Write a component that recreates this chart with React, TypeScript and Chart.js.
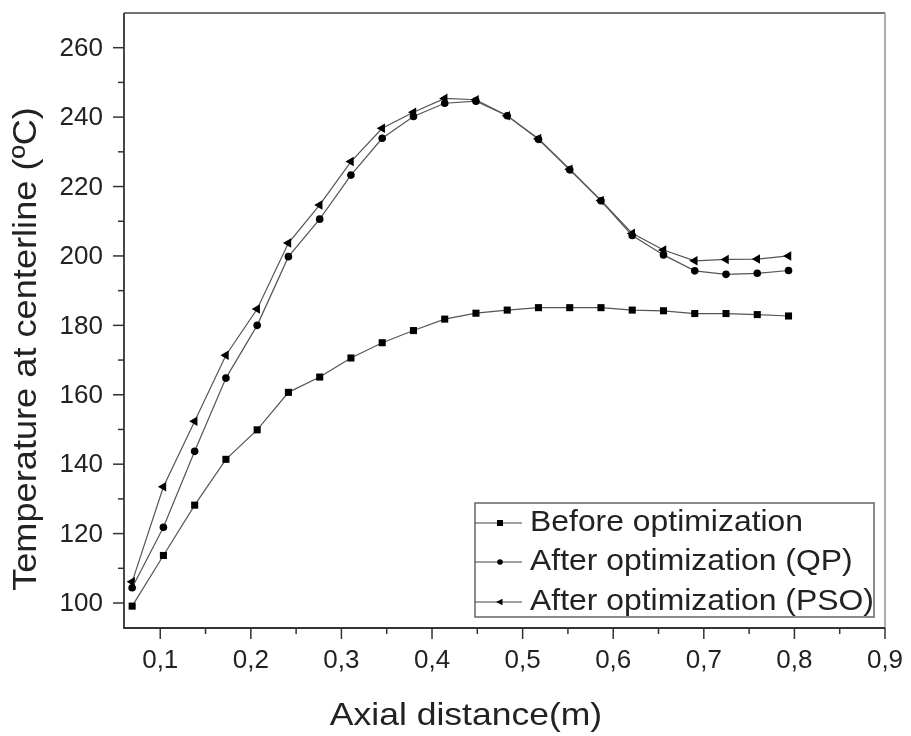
import React, { useEffect, useRef } from 'react';
import { Chart, registerables } from 'chart.js';
Chart.register(...registerables);

const axialDistance = [0.069, 0.1035, 0.138, 0.1725, 0.207, 0.2415, 0.276, 0.3105, 0.345, 0.3795, 0.414, 0.4485, 0.483, 0.5175, 0.552, 0.5865, 0.621, 0.6555, 0.69, 0.7245, 0.759, 0.7935];
const beforeOpt = [99.1, 113.7, 128.2, 141.4, 149.9, 160.7, 165.1, 170.6, 175.0, 178.5, 181.8, 183.5, 184.4, 185.1, 185.1, 185.1, 184.4, 184.2, 183.4, 183.4, 183.1, 182.7];
const afterQP = [104.4, 121.8, 143.7, 164.8, 180.0, 199.8, 210.6, 223.3, 233.9, 240.2, 244.0, 244.6, 240.4, 233.6, 224.8, 215.9, 205.9, 200.3, 195.7, 194.7, 195.0, 195.8];
const afterPSO = [106.1, 133.5, 152.4, 171.4, 184.7, 203.7, 214.7, 227.2, 236.8, 241.4, 245.4, 245.0, 240.4, 233.8, 225.0, 216.0, 206.5, 201.7, 198.6, 199.0, 199.1, 200.0];

const seriesLabels = ['Before optimization', 'After optimization (QP)', 'After optimization (PSO)'];
const xTickValues = [0.1, 0.15, 0.2, 0.25, 0.3, 0.35, 0.4, 0.45, 0.5, 0.55, 0.6, 0.65, 0.7, 0.75, 0.8, 0.85, 0.9];
const xMajorLabels = ['0,1', '0,2', '0,3', '0,4', '0,5', '0,6', '0,7', '0,8', '0,9'];
const yTickValues = [100, 110, 120, 130, 140, 150, 160, 170, 180, 190, 200, 210, 220, 230, 240, 250, 260];
const yMajorLabels = ['100', '120', '140', '160', '180', '200', '220', '240', '260'];
const xTitle = 'Axial distance(m)';
const yTitle = 'Temperature at centerline (ºC)';

const FONT = '"Liberation Sans", Arial, sans-serif';

function isMajorX(v: number) {
  return Math.abs(v * 10 - Math.round(v * 10)) < 1e-6;
}
function isMajorY(v: number) {
  return Math.abs(v / 20 - Math.round(v / 20)) < 1e-6;
}
function xLabel(v: number) {
  return isMajorX(v) ? xMajorLabels[Math.round(v * 10) - 1] ?? '' : '';
}
function yLabel(v: number) {
  return isMajorY(v) ? yMajorLabels[Math.round((v - 100) / 20)] ?? '' : '';
}

function stretchedText(ctx: CanvasRenderingContext2D, text: string, x: number, y: number, sx: number) {
  ctx.save();
  ctx.translate(x, y);
  ctx.scale(sx, 1);
  ctx.fillText(text, 0, 0);
  ctx.restore();
}

const decorPlugin = {
  id: 'decor',
  afterDraw(chart: any) {
    const ctx = chart.ctx as CanvasRenderingContext2D;
    const { left, right, top, bottom } = chart.chartArea;
    const xs = chart.scales.x;
    const ys = chart.scales.y;
    ctx.save();
    // frame
    ctx.strokeStyle = '#444';
    ctx.lineWidth = 1.6;
    ctx.beginPath();
    ctx.moveTo(left, top);
    ctx.lineTo(right, top);
    ctx.stroke();
    ctx.strokeStyle = '#999';
    ctx.beginPath();
    ctx.moveTo(right, top);
    ctx.lineTo(right, bottom);
    ctx.stroke();
    ctx.strokeStyle = '#333';
    ctx.lineWidth = 1.8;
    ctx.beginPath();
    ctx.moveTo(left, top);
    ctx.lineTo(left, bottom);
    ctx.lineTo(right, bottom);
    ctx.stroke();
    // ticks and tick labels
    ctx.lineWidth = 1.5;
    ctx.fillStyle = '#222';
    ctx.font = `26px ${FONT}`;
    xs.ticks.forEach((t: any) => {
      const px = xs.getPixelForValue(t.value);
      const major = isMajorX(t.value);
      const len = major ? 11 : 6;
      ctx.beginPath();
      ctx.moveTo(px, bottom);
      ctx.lineTo(px, bottom + len);
      ctx.stroke();
      const lab = xLabel(t.value);
      if (lab) {
        ctx.textAlign = 'center';
        ctx.textBaseline = 'middle';
        ctx.fillText(lab, px, bottom + 33);
      }
    });
    ys.ticks.forEach((t: any) => {
      const py = ys.getPixelForValue(t.value);
      const major = isMajorY(t.value);
      const len = major ? 11 : 6;
      ctx.beginPath();
      ctx.moveTo(left - len, py);
      ctx.lineTo(left, py);
      ctx.stroke();
      const lab = yLabel(t.value);
      if (lab) {
        ctx.textAlign = 'right';
        ctx.textBaseline = 'middle';
        ctx.fillText(lab, left - 21, py + 1);
      }
    });
    // axis titles
    ctx.fillStyle = '#222';
    ctx.font = `32px ${FONT}`;
    ctx.textAlign = 'center';
    ctx.textBaseline = 'alphabetic';
    stretchedText(ctx, xTitle, 466, 725, 1.11);
    ctx.save();
    ctx.translate(27, 349);
    ctx.rotate(-Math.PI / 2);
    ctx.font = `34px ${FONT}`;
    ctx.textBaseline = 'middle';
    stretchedText(ctx, yTitle, 0, 0, 1.064);
    ctx.restore();
    // legend
    const bx = 475, by = 503, bw = 399, bh = 114;
    ctx.fillStyle = '#fff';
    ctx.fillRect(bx, by, bw, bh);
    ctx.strokeStyle = '#666';
    ctx.lineWidth = 1.5;
    ctx.strokeRect(bx, by, bw, bh);
    const rows = [523, 562, 602];
    chart.data.datasets.forEach((ds: any, i: number) => {
      const ry = rows[i];
      ctx.strokeStyle = '#444';
      ctx.lineWidth = 1.2;
      ctx.beginPath();
      ctx.moveTo(bx, ry);
      ctx.lineTo(bx + 47, ry);
      ctx.stroke();
      ctx.fillStyle = '#000';
      const mx = bx + 25;
      if (i === 0) {
        ctx.fillRect(mx - 3, ry - 3, 6, 6);
      } else if (i === 1) {
        ctx.beginPath();
        ctx.arc(mx, ry, 2.8, 0, Math.PI * 2);
        ctx.fill();
      } else {
        ctx.beginPath();
        ctx.moveTo(mx - 4, ry);
        ctx.lineTo(mx + 2.5, ry - 3.2);
        ctx.lineTo(mx + 2.5, ry + 3.2);
        ctx.closePath();
        ctx.fill();
      }
      ctx.fillStyle = '#222';
      ctx.font = `29px ${FONT}`;
      ctx.textAlign = 'left';
      ctx.textBaseline = 'middle';
      stretchedText(ctx, ds.label, bx + 55, ry, 1.1);
    });
    ctx.restore();
  },
};

export default function App() {
  const ref = useRef<HTMLCanvasElement>(null);
  useEffect(() => {
    if (!ref.current) return;
    const mk = (vals: number[]) => axialDistance.map((x, i) => ({ x, y: vals[i] }));
    const chart = new Chart(ref.current, {
      type: 'line',
      data: {
        datasets: [
          { label: seriesLabels[0], data: mk(beforeOpt), borderColor: '#555', borderWidth: 1.2, pointStyle: 'rect', pointRadius: 5, pointBackgroundColor: '#000', pointBorderColor: '#000', pointBorderWidth: 0 },
          { label: seriesLabels[1], data: mk(afterQP), borderColor: '#555', borderWidth: 1.2, pointStyle: 'circle', pointRadius: 3.8, pointBackgroundColor: '#000', pointBorderColor: '#000', pointBorderWidth: 0 },
          { label: seriesLabels[2], data: mk(afterPSO), borderColor: '#555', borderWidth: 1.2, pointStyle: 'triangle', pointRotation: -90, pointRadius: 5.5, pointBackgroundColor: '#000', pointBorderColor: '#000', pointBorderWidth: 0 },
        ],
      },
      options: {
        animation: false,
        responsive: false,
        devicePixelRatio: 1,
        layout: { padding: { top: 13, right: 26, left: 0, bottom: 0 } },
        plugins: { legend: { display: false }, tooltip: { enabled: false } },
        scales: {
          x: {
            type: 'linear',
            min: 0.06,
            max: 0.9,
            grid: { display: false },
            border: { display: false },
            afterBuildTicks: (s: any) => { s.ticks = xTickValues.map((v) => ({ value: v })); },
            afterFit: (s: any) => { s.height = 108; },
            ticks: { display: false },
          },
          y: {
            type: 'linear',
            min: 92.8,
            max: 270,
            grid: { display: false },
            border: { display: false },
            afterBuildTicks: (s: any) => { s.ticks = yTickValues.map((v) => ({ value: v })); },
            afterFit: (s: any) => { s.width = 124; },
            ticks: { display: false },
          },
        },
      },
      plugins: [decorPlugin],
    });
    return () => chart.destroy();
  }, []);
  return (
    <div style={{ position: 'fixed', left: 0, top: 0, width: 911, height: 736, background: '#fff' }}>
      <canvas ref={ref} width={911} height={736} style={{ width: 911, height: 736, display: 'block' }} />
    </div>
  );
}
